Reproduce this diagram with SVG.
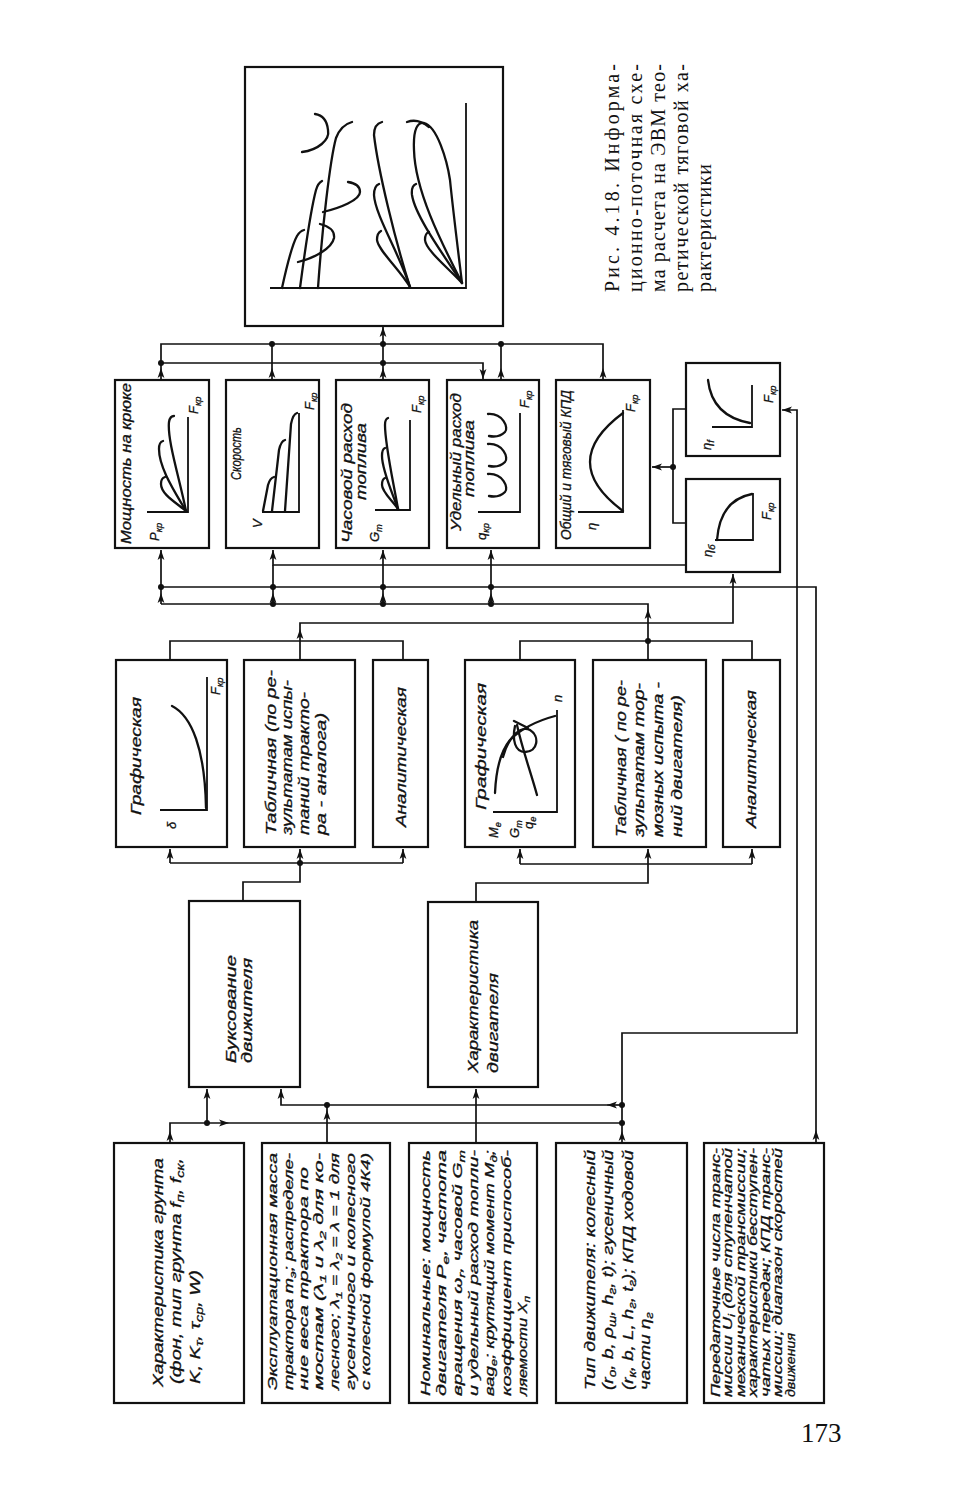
<svg xmlns="http://www.w3.org/2000/svg" width="959" height="1500" viewBox="0 0 959 1500">
<style>
.bx{fill:#fff;stroke:#111;stroke-width:2.2}
.ln{fill:none;stroke:#111;stroke-width:1.7}
.ax{fill:none;stroke:#111;stroke-width:1.8}
.cv{fill:none;stroke:#111;stroke-width:2.3;stroke-linecap:round}
.t{font-family:'Liberation Sans','DejaVu Sans',sans-serif;font-style:italic;font-size:14px;fill:#111;stroke:#111;stroke-width:0.3}
.s{font-size:13px}
.m{font-size:15px}
.k{font-size:12.5px}
.cap{font-family:'Liberation Serif','DejaVu Serif',serif;font-size:20px;fill:#111}
.sb{font-size:72%}
.dt{fill:#111}
</style>
<defs>
<marker id="ar" viewBox="0 0 10 8" refX="10" refY="4" markerWidth="10" markerHeight="8" markerUnits="userSpaceOnUse" orient="auto">
<path d="M0,0.6 L10,4 L0,7.4 L2.5,4 Z" fill="#111"/>
</marker>
</defs>
<rect width="959" height="1500" fill="#fff"/>

<g id="output-graph">
<rect class="bx" x="245" y="67" width="258" height="259"/>
<path class="ax" d="M270 288 H466 V103"/>
<path class="cv" d="M282 288 C287 265 292 245 297 236 Q300 231 304 230"/>
<path class="cv" d="M300 288 C305 250 312 205 316 190 Q318 183 322 181"/>
<path class="cv" d="M318 288 C322 230 330 160 336 138 Q341 125 352 122"/>
<path class="cv" d="M298 262 C315 258 332 248 334 238 C335 230 328 226 320 224"/>
<path class="cv" d="M323 212 C340 208 360 200 360 192 C360 186 355 183 348 182"/>
<path class="cv" d="M302 152 C318 150 330 140 328 130 C327 120 322 115 315 114"/>
<path class="cv" d="M410 287 C395 240 378 170 374 135 Q374 124 382 122"/>
<path class="cv" d="M410 287 C400 255 375 215 374 195 Q374 186 379 184"/>
<path class="cv" d="M410 287 C400 270 378 250 377 240 Q377 233 381 231"/>
<path class="cv" d="M462 283 C440 240 415 190 414 150 C413 128 418 122 424 123 C437 126 447 160 450 180 C453 210 458 250 462 283"/>
<path class="cv" d="M407 122 Q418 118 429 127"/>
<path class="cv" d="M462 283 C440 250 415 215 412 195 Q411 186 416 184"/>
<path class="cv" d="M462 283 C445 265 426 250 425 240 Q425 233 429 232"/>
</g>

<g id="caption">
<text class="cap" transform="translate(619 292) rotate(-90)" textLength="228" lengthAdjust="spacing">Рис.  4.18.  Информа-</text>
<text class="cap" transform="translate(642 292) rotate(-90)" textLength="228" lengthAdjust="spacing">ционно-поточная   схе-</text>
<text class="cap" transform="translate(665 292) rotate(-90)" textLength="228" lengthAdjust="spacing">ма расчета на ЭВМ тео-</text>
<text class="cap" transform="translate(688 292) rotate(-90)" textLength="228" lengthAdjust="spacing">ретической тяговой ха-</text>
<text class="cap" transform="translate(711 292) rotate(-90)" textLength="128" lengthAdjust="spacing">рактеристики</text>
</g>

<g id="power">
<rect class="bx" x="115" y="380" width="94" height="168"/>
<text class="t" transform="translate(131 544) rotate(-90)" textLength="161" lengthAdjust="spacingAndGlyphs">Мощность на крюке</text>
<path class="ax" d="M147 512 H188 V417"/>
<path class="cv" d="M186 511 C180 480 167 440 169 422 Q170 416 174 416"/>
<path class="cv" d="M186 511 C175 492 159 468 159 449 Q159 442 163 441"/>
<path class="cv" d="M186 511 C175 502 161 494 161 484 Q161 478 165 477"/>
<text class="t s" transform="translate(159 541) rotate(-90)">P<tspan class="sb" dy="3">кр</tspan></text>
<text class="t s" transform="translate(198 414) rotate(-90)">F<tspan class="sb" dy="3">кр</tspan></text>
</g>

<g id="speed">
<rect class="bx" x="226" y="380" width="93" height="168"/>
<text class="t" transform="translate(241 480) rotate(-90)" textLength="53" lengthAdjust="spacingAndGlyphs">Скорость</text>
<path class="ax" d="M262 512 H299 V413"/>
<path class="cv" d="M263 511 L268 485 Q270 478 274 477"/>
<path class="cv" d="M272 511 L279 450 Q281 441 285 440"/>
<path class="cv" d="M285 511 L291 424 Q293 414 297 413"/>
<text class="t s" transform="translate(262 528) rotate(-90)">V</text>
<text class="t s" transform="translate(314 410) rotate(-90)">F<tspan class="sb" dy="3">кр</tspan></text>
</g>

<g id="hourly">
<rect class="bx" x="336" y="380" width="93" height="168"/>
<text class="t" transform="translate(352 543) rotate(-90)" textLength="140" lengthAdjust="spacingAndGlyphs">Часовой расход</text>
<text class="t" transform="translate(366 500) rotate(-90)" textLength="77" lengthAdjust="spacingAndGlyphs">топлива</text>
<path class="ax" d="M375 510 H410 V420"/>
<path class="cv" d="M398 509 C393 480 385 445 385 425 Q385 419 388 418"/>
<path class="cv" d="M398 509 C392 492 382 470 382 456 Q382 449 385 448"/>
<path class="cv" d="M398 509 C392 500 382 492 382 485 Q382 479 385 478"/>
<text class="t s" transform="translate(379 542) rotate(-90)">G<tspan class="sb" dy="3">т</tspan></text>
<text class="t s" transform="translate(421 413) rotate(-90)">F<tspan class="sb" dy="3">кр</tspan></text>
</g>

<g id="specific">
<rect class="bx" x="447" y="380" width="92" height="168"/>
<text class="t" transform="translate(461 531) rotate(-90)" textLength="138" lengthAdjust="spacingAndGlyphs">Удельный расход</text>
<text class="t" transform="translate(474 497) rotate(-90)" textLength="77" lengthAdjust="spacingAndGlyphs">топлива</text>
<path class="ax" d="M478 512 H520 V413"/>
<path class="cv" d="M488 414 C503 413 509 428 505 432 C500 437 494 437 489 436"/>
<path class="cv" d="M488 444 C503 443 509 458 505 462 C500 467 494 467 489 466"/>
<path class="cv" d="M488 474 C503 473 509 488 505 492 C500 497 494 497 489 496"/>
<text class="t s" transform="translate(486 540) rotate(-90)">q<tspan class="sb" dy="3">кр</tspan></text>
<text class="t s" transform="translate(529 408) rotate(-90)">F<tspan class="sb" dy="3">кр</tspan></text>
</g>

<g id="efficiency">
<rect class="bx" x="556" y="380" width="94" height="168"/>
<text class="t" transform="translate(571 540) rotate(-90)" textLength="150" lengthAdjust="spacingAndGlyphs">Общий и тяговый КПД</text>
<path class="ax" d="M578 512 H623 V410"/>
<path class="cv" d="M623 511 Q557 462 623 413"/>
<text class="t s" transform="translate(596 530) rotate(-90)">η</text>
<text class="t s" transform="translate(635 412) rotate(-90)">F<tspan class="sb" dy="3">кр</tspan></text>
</g>

<g id="eta-f">
<rect class="bx" x="686" y="363" width="94" height="93"/>
<path class="ax" d="M712 427 H752 V385"/>
<path class="cv" d="M708 380 Q712 416 750 423"/>
<text class="t s" transform="translate(711 450) rotate(-90)">η<tspan class="sb" dy="3">f</tspan></text>
<text class="t s" transform="translate(773 403) rotate(-90)">F<tspan class="sb" dy="3">кр</tspan></text>
</g>

<g id="eta-b">
<rect class="bx" x="686" y="479" width="94" height="93"/>
<path class="ax" d="M715 540 H753 V493"/>
<path class="cv" d="M717 540 Q720 500 752 494"/>
<text class="t s" transform="translate(712 557) rotate(-90)">η<tspan class="sb" dy="3">б</tspan></text>
<text class="t s" transform="translate(771 520) rotate(-90)">F<tspan class="sb" dy="3">кр</tspan></text>
</g>

<g id="slip-graphic">
<rect class="bx" x="116" y="660" width="111" height="187"/>
<text class="t" transform="translate(141 815) rotate(-90)" textLength="118" lengthAdjust="spacingAndGlyphs">Графическая</text>
<path class="ax" d="M160 810 H207 V677"/>
<path class="cv" d="M172 706 C192 716 205 750 206 808"/>
<text class="t s" transform="translate(176 829) rotate(-90)">δ</text>
<text class="t s" transform="translate(220 695) rotate(-90)">F<tspan class="sb" dy="3">кр</tspan></text>
</g>

<g id="slip-table">
<rect class="bx" x="244" y="660" width="111" height="187"/>
<text class="t" transform="translate(276 835) rotate(-90)" textLength="165" lengthAdjust="spacingAndGlyphs">Табличная (по ре-</text>
<text class="t" transform="translate(292 835) rotate(-90)" textLength="155" lengthAdjust="spacingAndGlyphs">зультатам испы-</text>
<text class="t" transform="translate(309 835) rotate(-90)" textLength="143" lengthAdjust="spacingAndGlyphs">таний тракто-</text>
<text class="t" transform="translate(326 835) rotate(-90)" textLength="122" lengthAdjust="spacingAndGlyphs">ра - аналога)</text>
</g>

<g id="slip-analytic">
<rect class="bx" x="373" y="660" width="55" height="187"/>
<text class="t" transform="translate(406 827) rotate(-90)" textLength="140" lengthAdjust="spacingAndGlyphs">Аналитическая</text>
</g>

<g id="engine-graphic">
<rect class="bx" x="465" y="660" width="110" height="187"/>
<text class="t" transform="translate(486 810) rotate(-90)" textLength="127" lengthAdjust="spacingAndGlyphs">Графическая</text>
<path class="ax" d="M493 812 H557 V710"/>
<path class="cv" d="M495 793 C496 770 500 752 510 740 C522 728 540 720 555 716"/>
<path class="cv" d="M537 795 C530 770 522 748 517 725"/>
<path class="cv" d="M503 757 C508 738 520 725 530 730 C540 736 538 752 525 752 C515 752 512 740 515 726"/>
<path class="cv" d="M514 721 L528 728"/>
<text class="t s" transform="translate(562 702) rotate(-90)">n</text>
<text class="t s" transform="translate(498 838) rotate(-90)">M<tspan class="sb" dy="3">e</tspan></text>
<text class="t s" transform="translate(519 838) rotate(-90)">G<tspan class="sb" dy="3">т</tspan></text>
<text class="t s" transform="translate(533 829) rotate(-90)">q<tspan class="sb" dy="3">e</tspan></text>
</g>

<g id="engine-table">
<rect class="bx" x="593" y="660" width="113" height="187"/>
<text class="t" transform="translate(626 837) rotate(-90)" textLength="157" lengthAdjust="spacingAndGlyphs">Табличная ( по ре-</text>
<text class="t" transform="translate(644 837) rotate(-90)" textLength="154" lengthAdjust="spacingAndGlyphs">зультатам тор-</text>
<text class="t" transform="translate(663 837) rotate(-90)" textLength="155" lengthAdjust="spacingAndGlyphs">мозных испыта -</text>
<text class="t" transform="translate(682 837) rotate(-90)" textLength="142" lengthAdjust="spacingAndGlyphs">ний двигателя)</text>
</g>

<g id="engine-analytic">
<rect class="bx" x="723" y="660" width="57" height="187"/>
<text class="t" transform="translate(756 828) rotate(-90)" textLength="138" lengthAdjust="spacingAndGlyphs">Аналитическая</text>
</g>

<g id="slip">
<rect class="bx" x="189" y="901" width="111" height="186"/>
<text class="t" transform="translate(236 1063) rotate(-90)" textLength="108" lengthAdjust="spacingAndGlyphs">Буксование</text>
<text class="t" transform="translate(252 1063) rotate(-90)" textLength="105" lengthAdjust="spacingAndGlyphs">движителя</text>
</g>

<g id="engine">
<rect class="bx" x="428" y="902" width="110" height="185"/>
<text class="t" transform="translate(478 1073) rotate(-90)" textLength="153" lengthAdjust="spacingAndGlyphs">Характеристика</text>
<text class="t" transform="translate(498 1073) rotate(-90)" textLength="100" lengthAdjust="spacingAndGlyphs">двигателя</text>
</g>

<g id="soil">
<rect class="bx" x="114" y="1143" width="130" height="260"/>
<text class="t m" transform="translate(163 1387) rotate(-90)" textLength="229" lengthAdjust="spacingAndGlyphs">Характеристика грунта</text>
<text class="t m" transform="translate(181 1384) rotate(-90)" textLength="226" lengthAdjust="spacingAndGlyphs">(фон, тип грунта f<tspan class="sb" dy="3">п</tspan><tspan dy="-3">, f</tspan><tspan class="sb" dy="3">ск</tspan><tspan dy="-3">,</tspan></text>
<text class="t m" transform="translate(200 1384) rotate(-90)" textLength="114" lengthAdjust="spacingAndGlyphs">K, K<tspan class="sb" dy="3">τ</tspan><tspan dy="-3">, τ</tspan><tspan class="sb" dy="3">ср</tspan><tspan dy="-3">, W)</tspan></text>
</g>

<g id="mass">
<rect class="bx" x="262" y="1143" width="128" height="260"/>
<text class="t s" transform="translate(277 1390) rotate(-90)" textLength="237" lengthAdjust="spacingAndGlyphs">Эксплуатационная масса</text>
<text class="t s" transform="translate(293 1390) rotate(-90)" textLength="237" lengthAdjust="spacingAndGlyphs">трактора m<tspan class="sb" dy="3">э</tspan><tspan dy="-3">; распределе-</tspan></text>
<text class="t s" transform="translate(308 1390) rotate(-90)" textLength="223" lengthAdjust="spacingAndGlyphs">ние веса  трактора по</text>
<text class="t s" transform="translate(323 1390) rotate(-90)" textLength="237" lengthAdjust="spacingAndGlyphs">мостам (λ<tspan class="sb" dy="3">1</tspan><tspan dy="-3"> и λ</tspan><tspan class="sb" dy="3">2</tspan><tspan dy="-3">  для ко-</tspan></text>
<text class="t s" transform="translate(339 1390) rotate(-90)" textLength="237" lengthAdjust="spacingAndGlyphs">лесного; λ<tspan class="sb" dy="3">1</tspan><tspan dy="-3"> = λ</tspan><tspan class="sb" dy="3">2</tspan><tspan dy="-3"> = λ = 1 для</tspan></text>
<text class="t s" transform="translate(355 1390) rotate(-90)" textLength="237" lengthAdjust="spacingAndGlyphs">гусеничного и колесного</text>
<text class="t s" transform="translate(370 1390) rotate(-90)" textLength="237" lengthAdjust="spacingAndGlyphs">с колесной формулой 4К4)</text>
</g>

<g id="nominal">
<rect class="bx" x="409" y="1143" width="128" height="260"/>
<text class="t s" transform="translate(430 1396) rotate(-90)" textLength="246" lengthAdjust="spacingAndGlyphs">Номинальные:  мощность</text>
<text class="t s" transform="translate(446 1396) rotate(-90)" textLength="246" lengthAdjust="spacingAndGlyphs">двигателя P<tspan class="sb" dy="3">e</tspan><tspan dy="-3">,  частота</tspan></text>
<text class="t s" transform="translate(462 1396) rotate(-90)" textLength="246" lengthAdjust="spacingAndGlyphs">вращения ω<tspan class="sb" dy="3">r</tspan><tspan dy="-3">,  часовой G</tspan><tspan class="sb" dy="3">т</tspan></text>
<text class="t s" transform="translate(478 1396) rotate(-90)" textLength="246" lengthAdjust="spacingAndGlyphs">и удельный расход топли-</text>
<text class="t s" transform="translate(494 1396) rotate(-90)" textLength="246" lengthAdjust="spacingAndGlyphs">ваg<tspan class="sb" dy="3">e</tspan><tspan dy="-3">; крутящий момент M</tspan><tspan class="sb" dy="3">д</tspan><tspan dy="-3">;</tspan></text>
<text class="t s" transform="translate(511 1396) rotate(-90)" textLength="246" lengthAdjust="spacingAndGlyphs">коэффициент  приспособ-</text>
<text class="t s" transform="translate(527 1396) rotate(-90)" textLength="100" lengthAdjust="spacingAndGlyphs">ляемости X<tspan class="sb" dy="3">п</tspan></text>
</g>

<g id="mover">
<rect class="bx" x="556" y="1143" width="131" height="260"/>
<text class="t m" transform="translate(595 1390) rotate(-90)" textLength="240" lengthAdjust="spacingAndGlyphs">Тип  движителя:  колесный</text>
<text class="t m" transform="translate(613 1390) rotate(-90)" textLength="240" lengthAdjust="spacingAndGlyphs">(r<tspan class="sb" dy="3">о</tspan><tspan dy="-3">, b, ρ</tspan><tspan class="sb" dy="3">ш</tspan><tspan dy="-3">, h</tspan><tspan class="sb" dy="3">г</tspan><tspan dy="-3">, t); гусеничный</tspan></text>
<text class="t m" transform="translate(633 1390) rotate(-90)" textLength="240" lengthAdjust="spacingAndGlyphs">(r<tspan class="sb" dy="3">к</tspan><tspan dy="-3">, b, L, h</tspan><tspan class="sb" dy="3">г</tspan><tspan dy="-3">, t</tspan><tspan class="sb" dy="3">г</tspan><tspan dy="-3">); КПД ходовой</tspan></text>
<text class="t m" transform="translate(650 1390) rotate(-90)" textLength="78" lengthAdjust="spacingAndGlyphs">части η<tspan class="sb" dy="3">г</tspan></text>
</g>

<g id="transmission">
<rect class="bx" x="704" y="1143" width="120" height="260"/>
<text class="t k" transform="translate(720 1397) rotate(-90)" textLength="249" lengthAdjust="spacingAndGlyphs">Передаточные числа транс-</text>
<text class="t k" transform="translate(732 1397) rotate(-90)" textLength="249" lengthAdjust="spacingAndGlyphs">миссии U<tspan class="sb" dy="3">i</tspan><tspan dy="-3"> (для ступенчатой</tspan></text>
<text class="t k" transform="translate(745 1397) rotate(-90)" textLength="249" lengthAdjust="spacingAndGlyphs">механической трансмиссии;</text>
<text class="t k" transform="translate(757 1397) rotate(-90)" textLength="249" lengthAdjust="spacingAndGlyphs">характеристики бесступен-</text>
<text class="t k" transform="translate(770 1397) rotate(-90)" textLength="249" lengthAdjust="spacingAndGlyphs">чатых передач; КПД транс-</text>
<text class="t k" transform="translate(782 1397) rotate(-90)" textLength="249" lengthAdjust="spacingAndGlyphs">миссии; диапазон скоростей</text>
<text class="t k" transform="translate(795 1397) rotate(-90)" textLength="64" lengthAdjust="spacingAndGlyphs">движения</text>
</g>

<g id="connectors">
<path class="ln" d="M161 380 V368" marker-end="url(#ar)"/>
<path class="ln" d="M161 368 V344 H603 V368"/>
<path class="ln" d="M603 380 V368" marker-end="url(#ar)"/>
<path class="ln" d="M272 380 V368" marker-end="url(#ar)"/>
<path class="ln" d="M272 368 V344"/>
<path class="ln" d="M383 380 V368" marker-end="url(#ar)"/>
<path class="ln" d="M383 368 V327" marker-end="url(#ar)"/>
<path class="ln" d="M501 380 V368" marker-end="url(#ar)"/>
<path class="ln" d="M501 368 V344"/>
<path class="ln" d="M161 363 H483 V379" marker-end="url(#ar)"/>

<path class="ln" d="M686 565 H273 V550" marker-end="url(#ar)"/>
<path class="ln" d="M161 604 V593" marker-end="url(#ar)"/>
<path class="ln" d="M161 593 V550" marker-end="url(#ar)"/>
<path class="ln" d="M273 604 V593" marker-end="url(#ar)"/>
<path class="ln" d="M273 593 V565"/>
<path class="ln" d="M383 604 V593" marker-end="url(#ar)"/>
<path class="ln" d="M383 593 V550" marker-end="url(#ar)"/>
<path class="ln" d="M491 604 V593" marker-end="url(#ar)"/>
<path class="ln" d="M491 593 V550" marker-end="url(#ar)"/>
<path class="ln" d="M816 1143 V1130" marker-end="url(#ar)"/>
<path class="ln" d="M816 1130 V587 H161"/>
<path class="ln" d="M648 641 V609" marker-end="url(#ar)"/>
<path class="ln" d="M648 609 V604 H161"/>
<path class="ln" d="M300 641 V629" marker-end="url(#ar)"/>
<path class="ln" d="M300 629 V623 H733 V574" marker-end="url(#ar)"/>

<path class="ln" d="M170 660 V641 H403 V660 M300 660 V641"/>
<path class="ln" d="M520 660 V641 H752 V660 M648 660 V641"/>
<path class="ln" d="M170 863 H403"/>
<path class="ln" d="M170 863 V849" marker-end="url(#ar)"/>
<path class="ln" d="M300 863 V849" marker-end="url(#ar)"/>
<path class="ln" d="M403 863 V849" marker-end="url(#ar)"/>
<path class="ln" d="M243 901 V882 H300 V863"/>
<path class="ln" d="M520 864 H752"/>
<path class="ln" d="M520 864 V849" marker-end="url(#ar)"/>
<path class="ln" d="M648 864 V849" marker-end="url(#ar)"/>
<path class="ln" d="M752 864 V849" marker-end="url(#ar)"/>
<path class="ln" d="M476 902 V883 H648 V864"/>

<path class="ln" d="M686 409 H673 V523 H686"/>
<path class="ln" d="M673 467 H652" marker-end="url(#ar)"/>

<path class="ln" d="M622 1143 V1131" marker-end="url(#ar)"/>
<path class="ln" d="M622 1131 V1033 H797 V410 H782" marker-end="url(#ar)"/>
<path class="ln" d="M170 1143 V1131" marker-end="url(#ar)"/>
<path class="ln" d="M170 1131 V1123 H229" marker-end="url(#ar)"/>
<path class="ln" d="M229 1123 H622"/>
<path class="ln" d="M207 1123 V1089" marker-end="url(#ar)"/>
<path class="ln" d="M327 1143 V1110" marker-end="url(#ar)"/>
<path class="ln" d="M327 1110 V1105"/>
<path class="ln" d="M622 1105 H607" marker-end="url(#ar)"/>
<path class="ln" d="M607 1105 H281 V1089" marker-end="url(#ar)"/>
<path class="ln" d="M476 1143 V1089" marker-end="url(#ar)"/>

<circle class="dt" cx="161" cy="363" r="3"/>
<circle class="dt" cx="272" cy="344" r="3"/>
<circle class="dt" cx="383" cy="344" r="3"/>
<circle class="dt" cx="383" cy="363" r="3"/>
<circle class="dt" cx="501" cy="344" r="3"/>
<circle class="dt" cx="161" cy="587" r="3"/>
<circle class="dt" cx="273" cy="587" r="3"/>
<circle class="dt" cx="383" cy="587" r="3"/>
<circle class="dt" cx="491" cy="587" r="3"/>
<circle class="dt" cx="273" cy="604" r="3"/>
<circle class="dt" cx="383" cy="604" r="3"/>
<circle class="dt" cx="491" cy="604" r="3"/>
<circle class="dt" cx="648" cy="641" r="3"/>
<circle class="dt" cx="300" cy="863" r="3"/>
<circle class="dt" cx="673" cy="467" r="3"/>
<circle class="dt" cx="207" cy="1123" r="3"/>
<circle class="dt" cx="622" cy="1123" r="3"/>
<circle class="dt" cx="622" cy="1105" r="3"/>
<circle class="dt" cx="327" cy="1105" r="3"/>
</g>

<text id="page-number" x="801" y="1442" style="font-family:'Liberation Serif',serif;font-size:27px;fill:#111">173</text>
</svg>
